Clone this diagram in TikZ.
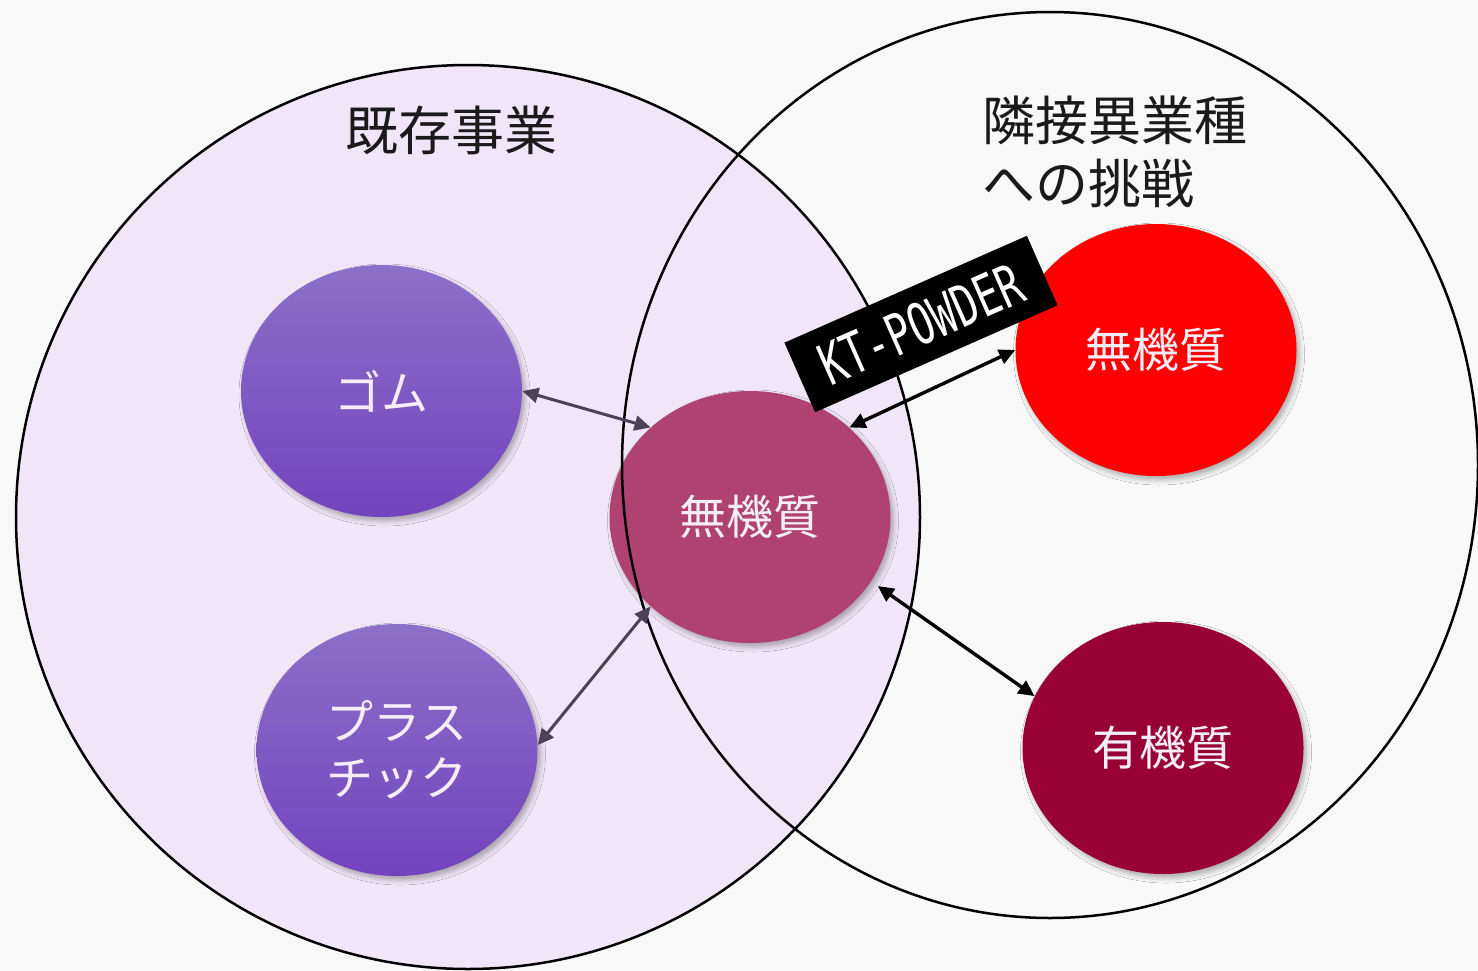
\documentclass[tikz,border=0pt]{standalone}
\usepackage{fontspec}
\setmainfont{Liberation Sans}
\newfontfamily\jp{Noto Sans CJK JP}
\newfontfamily\ktfont{DejaVu Sans Mono}
\usetikzlibrary{arrows.meta,shapes.geometric,shadows.blur}
\definecolor{bg}{HTML}{F8F8F8}
\definecolor{lav}{HTML}{F1E6F7}
\definecolor{pA}{HTML}{8B70C9}
\definecolor{pB}{HTML}{7748C0}
\definecolor{pC}{HTML}{7343BE}
\definecolor{mid}{HTML}{B04272}
\definecolor{org}{HTML}{990033}
\definecolor{txt}{HTML}{F5EEF8}
\definecolor{agray}{HTML}{4B4257}
\definecolor{titlec}{HTML}{1A1A1A}
\tikzset{
  blob/.style={ellipse, minimum width=140.5pt, minimum height=126pt, inner sep=0pt,
    blur shadow={shadow xshift=1.5pt, shadow yshift=-2pt, shadow blur radius=2.5pt, shadow blur extra rounding=0pt, shadow opacity=30},
    font=\jp\fontsize{23.5}{28}\selectfont, text=txt, align=center},
  purp/.style={top color=pA, middle color=pB, bottom color=pC},
  tip/.style={{Triangle[length=8pt,width=7.5pt]}-{Triangle[length=8pt,width=7.5pt]}},
  con/.style={tip, line width=1.5pt, draw=agray},
  conb/.style={tip, line width=1.7pt, draw=black},
  ttl/.style={font=\jp\fontsize{26.5}{31.5}\selectfont, text=titlec, inner sep=0pt},
  ring/.style={draw=black, line width=1.25pt}
}
\begin{document}
\begin{tikzpicture}[x=0.5pt,y=-0.5pt]
\fill[bg] (0,0) rectangle (1478,970);
\useasboundingbox (0,0) rectangle (1478,970);
% left circle fill
\fill[lav] (468,517) circle[radius=226pt];
% ellipses
\node[blob, purp] (gomu) at (381.5,391) {ゴム};
\node[blob, purp] (plas) at (397,750) {プラス\\チック};
\node[blob, fill=mid] (cen) at (750,517) {無機質};
\node[blob, fill=red] (red) at (1156,350) {無機質};
\node[blob, fill=org] (orgn) at (1163,748) {有機質};
% ring borders
\draw[ring] (468,517) circle[radius=226pt];
\draw[ring] (1050,465) ellipse[x radius=214pt, y radius=226.5pt];
% titles
\node[ttl] (t1) at (451,130) {既存事業};
\node[ttl, anchor=west, align=left] (t2) at (982,152) {隣接異業種\\への挑戦};
% connectors
\draw[con] (gomu.0) -- (cen.138);
\draw[con] (cen.222) -- (plas.2);
\draw[conb] (cen.42) -- (red.180);
\draw[conb, shorten <=4pt] (cen.-28) -- (orgn.158);
% KT-POWDER label
\node[fill=black, rotate=23.8, minimum width=132.5pt, minimum height=38pt, inner sep=0pt, text=white] (kt) at (921,324)
  {\scalebox{0.7}[1]{\ktfont\fontsize{28.5}{30}\selectfont KT-POWDER}};
\end{tikzpicture}
\end{document}
